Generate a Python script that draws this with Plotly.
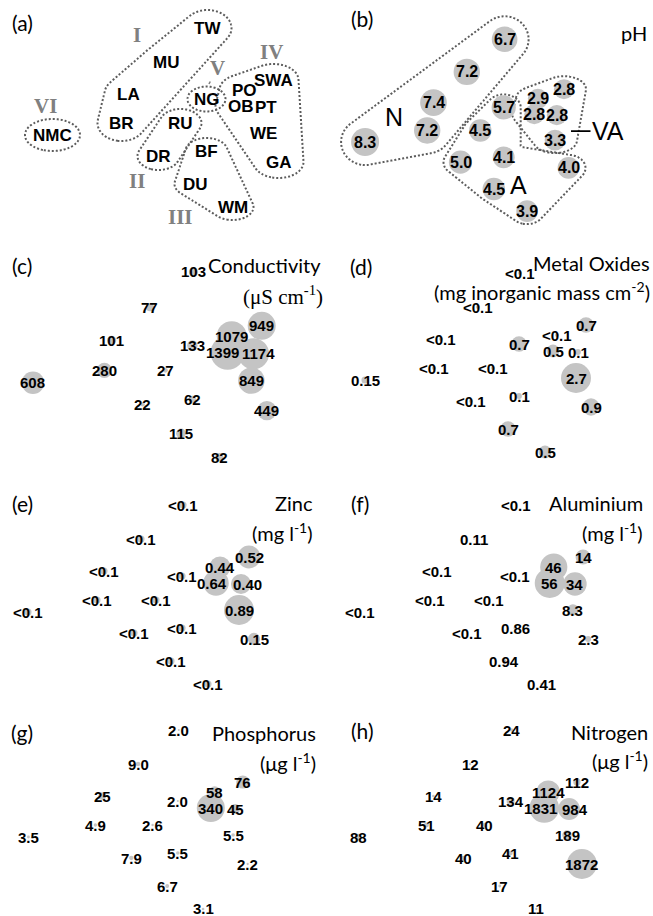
import numpy as np
import plotly.graph_objects as go

W, H = 653, 916

# ---------------- data ----------------
sites = ["NMC", "BR", "LA", "MU", "TW", "RU", "DR", "NG", "BF", "DU", "WM",
         "GA", "WE", "SWA", "PO", "OB", "PT"]
nmds1 = [-1.15, -0.46, -0.39, -0.02, 0.40, 0.13, -0.09, 0.39, 0.39, 0.28, 0.65,
         1.11, 0.96, 1.06, 0.77, 0.73, 0.98]
nmds2 = [-0.20, -0.08, 0.21, 0.53, 0.87, -0.08, -0.41, 0.16, -0.36, -0.69, -0.92,
         -0.47, -0.18, 0.35, 0.25, 0.09, 0.08]

ph = ["8.3", "7.2", "7.4", "7.2", "6.7", "4.5", "5.0", "5.7", "4.1", "4.5", "3.9",
      "4.0", "3.3", "2.8", "2.9", "2.8", "2.8"]
conductivity = ["608", "280", "101", "77", "103", "27", "22", "133", "62", "115", "82",
                "449", "849", "949", "1079", "1399", "1174"]
metal_oxides = ["0.15", "<0.1", "<0.1", "<0.1", "<0.1", "<0.1", "<0.1", "0.7", "0.1", "0.7", "0.5",
                "0.9", "2.7", "0.7", "<0.1", "0.5", "0.1"]
zinc = ["<0.1", "<0.1", "<0.1", "<0.1", "<0.1", "<0.1", "<0.1", "<0.1", "<0.1", "<0.1", "<0.1",
        "0.15", "0.89", "0.52", "0.44", "0.64", "0.40"]
aluminium = ["<0.1", "<0.1", "<0.1", "0.11", "<0.1", "<0.1", "<0.1", "<0.1", "0.86", "0.94", "0.41",
             "2.3", "8.3", "14", "46", "56", "34"]
phosphorus = ["3.5", "4.9", "25", "9.0", "2.0", "2.6", "7.9", "2.0", "5.5", "6.7", "3.1",
              "2.2", "5.5", "76", "58", "340", "45"]
nitrogen = ["88", "51", "14", "12", "24", "40", "40", "134", "41", "17", "11",
            "1872", "189", "112", "1124", "1831", "984"]

clusters_a = {"I": [["TW", "MU", "LA", "BR"]], "II": [["RU", "DR"]], "III": [["BF", "DU", "WM"]],
              "IV": [["SWA", "PO", "OB", "PT", "WE", "GA"]], "V": [["NG"]], "VI": [["NMC"]]}
clusters_b = {"N": [["NMC", "BR", "LA", "MU", "TW"]],
              "A": [["NG", "RU", "DR", "DU", "BF"], ["BF", "DU", "WM", "GA"]],
              "VA": [["SWA", "PO", "OB", "PT", "WE"]]}

# ---------------- layout geometry (pixels) ----------------
# name: (x0, x1, y0, y1, x_origin, x_scale, y_origin, y_scale)
panels = {
    "a": (0, 326, 0, 230, 167.5, 100, 115, 100),
    "b": (326, 653, 0, 230, 468.6, 90, 122.8, 96),
    "c": (0, 326, 230, 462, 152, 103.5, 362, 103.5),
    "d": (326, 653, 230, 462, 480, 100, 360, 100),
    "e": (0, 326, 462, 690, 143, 100, 592, 100),
    "f": (326, 653, 462, 690, 476, 101, 592, 100),
    "g": (0, 326, 690, 916, 140, 97, 817, 100),
    "h": (326, 653, 690, 916, 472, 99, 817, 100),
}
order = ["a", "b", "c", "d", "e", "f", "g", "h"]

LABEL_FONT = "Liberation Sans"
TITLE_FONT = "Lato"
SERIF = "Liberation Serif"
BUBBLE = "#c4c4c4"
OUTLINE = "#5c5c5c"

fig = go.Figure()
annotations = []
idx = {s: i for i, s in enumerate(sites)}
X = np.array(nmds1)
Y = np.array(nmds2)


def axis_ids(p):
    n = order.index(p) + 1
    s = "" if n == 1 else str(n)
    return "x" + s, "y" + s, "xaxis" + s, "yaxis" + s


def ranges(p):
    x0, x1, y0, y1, a, sx, c, sy = panels[p]
    return [(x0 - a) / sx, (x1 - a) / sx], [(c - y1) / sy, (c - y0) / sy]


def num(v):
    return 0.05 if v.startswith("<") else float(v)


# ---------- convex-hull outlines ----------
def hull(pts):
    pts = sorted(set(pts))
    if len(pts) <= 2:
        return pts

    def cross(o, a, b):
        return (a[0] - o[0]) * (b[1] - o[1]) - (a[1] - o[1]) * (b[0] - o[0])
    lower, upper = [], []
    for p in pts:
        while len(lower) >= 2 and cross(lower[-2], lower[-1], p) <= 0:
            lower.pop()
        lower.append(p)
    for p in reversed(pts):
        while len(upper) >= 2 and cross(upper[-2], upper[-1], p) <= 0:
            upper.pop()
        upper.append(p)
    return lower[:-1] + upper[:-1]


def seg_dist(px, py, a, b):
    dx, dy = b[0] - a[0], b[1] - a[1]
    L2 = dx * dx + dy * dy
    if L2 == 0:
        return np.hypot(px - a[0], py - a[1])
    t = np.clip(((px - a[0]) * dx + (py - a[1]) * dy) / L2, 0, 1)
    return np.hypot(px - a[0] - t * dx, py - a[1] - t * dy)


def poly_dist(px, py, pts):
    h = hull(pts)
    if len(h) == 1:
        return np.hypot(px - h[0][0], py - h[0][1])
    if len(h) == 2:
        return seg_dist(px, py, h[0], h[1])
    d = np.full(px.shape, np.inf)
    inside = np.ones(px.shape, bool)
    for i in range(len(h)):
        a, b = h[i], h[(i + 1) % len(h)]
        d = np.minimum(d, seg_dist(px, py, a, b))
        inside &= ((b[0] - a[0]) * (py - a[1]) - (b[1] - a[1]) * (px - a[0])) >= 0
    d[inside] = 0
    return d


def add_outlines(p, clusters, pads):
    xa, ya, _, _ = axis_ids(p)
    xr, yr = ranges(p)
    sx, sy = panels[p][5], panels[p][7]
    gx = np.linspace(xr[0], xr[1], 300)
    gy = np.linspace(yr[0], yr[1], 220)
    GX, GY = np.meshgrid(gx, gy)
    for name, polys in clusters.items():
        rx, ry = pads[name]
        U, V = GX * sx / rx, GY * sy / ry
        field = np.full(GX.shape, np.inf)
        for members in polys:
            pts = [(X[idx[m]] * sx / rx, Y[idx[m]] * sy / ry) for m in members]
            field = np.minimum(field, poly_dist(U, V, pts))
        fig.add_trace(go.Contour(
            x=gx, y=gy, z=field, xaxis=xa, yaxis=ya, autocontour=False,
            contours=dict(start=1, end=1, size=1, coloring="none", showlabels=False),
            line=dict(color=OUTLINE, width=2, dash="2px,2px", smoothing=1.0),
            showscale=False, hoverinfo="skip"))


def add_labels(p, labels, size, shifts=None, color="black"):
    xa, ya, _, _ = axis_ids(p)
    shifts = shifts or {}
    for i, s in enumerate(sites):
        dx, dy = shifts.get(s, (0, 0))
        annotations.append(dict(
            x=X[i], y=Y[i], xref=xa, yref=ya, text="<b>%s</b>" % labels[i],
            showarrow=False, xshift=dx, yshift=-dy,
            font=dict(family=LABEL_FONT, size=size, color=color)))


def add_bubbles(p, labels, rmax=None, linear=None):
    xa, ya, _, _ = axis_ids(p)
    vals = np.array([num(v) for v in labels])
    if linear is not None:
        marker = dict(size=2 * (linear[0] + linear[1] * vals), sizemode="diameter",
                      color=BUBBLE, line=dict(width=0), opacity=1)
    else:
        marker = dict(size=vals, sizemode="area", sizeref=vals.max() / (2 * rmax ** 2),
                      color=BUBBLE, line=dict(width=0), opacity=1)
    fig.add_trace(go.Scatter(x=X, y=Y, mode="markers", marker=marker,
                             xaxis=xa, yaxis=ya, hoverinfo="skip", showlegend=False))


def paper_text(px, py, text, size, family=TITLE_FONT, xanchor="center", color="black"):
    annotations.append(dict(x=px / W, y=1 - py / H, xref="paper", yref="paper", text=text,
                            showarrow=False, xanchor=xanchor, yanchor="middle",
                            font=dict(family=family, size=size, color=color)))


def site_text(p, site, dx, dy, text, size, family, color, **kw):
    xa, ya, _, _ = axis_ids(p)
    i = idx[site]
    d = dict(x=X[i], y=Y[i], xref=xa, yref=ya, text=text, showarrow=False,
             xshift=dx, yshift=-dy, font=dict(family=family, size=size, color=color))
    d.update(kw)
    annotations.append(d)


# ---------- panel (a) ----------
add_outlines("a", clusters_a, {"I": (24, 18), "II": (21, 14), "III": (21, 13),
                               "IV": (25, 16), "V": (19, 12.5), "VI": (27.5, 16)})
add_labels("a", sites, 17)
roman = {"I": ("MU", -28.5, -27), "II": ("DR", -21.5, 25), "III": ("DU", -15.5, 33),
         "IV": ("SWA", -2.5, -28), "VI": ("NMC", -7.5, -29)}
for r, (s, dx, dy) in roman.items():
    site_text("a", s, dx, dy, "<b>%s</b>" % r, 21, SERIF, "#808080")
site_text("a", "NG", 2.5, -15, "<b>V</b>", 21, SERIF, "#808080",
          showarrow=True, arrowhead=0, arrowwidth=1.6, arrowcolor="#808080",
          ax=8, ay=-16, standoff=0)

# ---------- panel (b) ----------
add_outlines("b", clusters_b, {"N": (24, 23), "A": (17, 13), "VA": (22, 13)})
add_bubbles("b", ph, linear=(8.0, 0.72))
add_labels("b", ph, 16)
site_text("b", "NMC", 28.5, -25.5, "N", 25, LABEL_FONT, "black")
site_text("b", "DU", 24.7, -4, "A", 25, LABEL_FONT, "black")
site_text("b", "WE", 16, -9, "VA", 25, LABEL_FONT, "black",
          showarrow=True, arrowhead=0, arrowwidth=1.8, arrowcolor="black",
          ax=37, ay=0, standoff=0)
paper_text(634, 33, "pH", 20)

# ---------- panels (c)-(h) ----------
specs = [
    ("c", conductivity, 17, {"OB": (-5, 0), "PT": (5, 0)}),
    ("d", metal_oxides, 15, None),
    ("e", zinc, 15, {"OB": (-4, 0), "PT": (6, 0)}),
    ("f", aluminium, 15, None),
    ("g", phosphorus, 14, {"WM": (0, -1)}),
    ("h", nitrogen, 15, {"OB": (-4, 0), "PT": (6, 0), "WM": (0, -1)}),
]
for p, labels, rmax, sh in specs:
    add_bubbles(p, labels, rmax=rmax)
    add_labels(p, labels, 15, sh)

# titles
paper_text(323, 265, "Conductivity", 20, xanchor="right")
paper_text(325, 295, "(\u03bcS cm<sup>-1</sup>)", 21, family=SERIF, xanchor="right")
paper_text(652, 263, "Metal Oxides", 20, xanchor="right")
paper_text(652, 291, "(mg inorganic mass cm<sup>-2</sup>)", 20, xanchor="right")
paper_text(315, 503, "Zinc", 20, xanchor="right")
paper_text(315, 532, "(mg l<sup>-1</sup>)", 20, xanchor="right")
paper_text(645, 503, "Aluminium", 20, xanchor="right")
paper_text(645, 532, "(mg l<sup>-1</sup>)", 20, xanchor="right")
paper_text(318, 733, "Phosphorus", 20, xanchor="right")
paper_text(318, 762, "(\u03bcg l<sup>-1</sup>)", 20, xanchor="right")
paper_text(650, 732, "Nitrogen", 20, xanchor="right")
paper_text(650, 760, "(\u03bcg l<sup>-1</sup>)", 20, xanchor="right")

# panel letters
letters = {"a": (22, 22), "b": (362, 19), "c": (22, 265), "d": (361, 267),
           "e": (22, 504), "f": (360, 504), "g": (22, 732), "h": (362, 730)}
for p, (px, py) in letters.items():
    paper_text(px, py, "(%s)" % p, 21)

# axes
lay = {}
for p in order:
    xa, ya, xk, yk = axis_ids(p)
    x0, x1, y0, y1 = panels[p][:4]
    xr, yr = ranges(p)
    lay[xk] = dict(domain=[x0 / W, x1 / W], range=xr, visible=False, fixedrange=True, anchor=ya)
    lay[yk] = dict(domain=[1 - y1 / H, 1 - y0 / H], range=yr, visible=False, fixedrange=True, anchor=xa)

fig.update_layout(width=W, height=H, margin=dict(l=0, r=0, t=0, b=0),
                  paper_bgcolor="white", plot_bgcolor="white", showlegend=False,
                  annotations=annotations, **lay)

fig.write_html("out.html", config={"displayModeBar": False},
               post_script="document.body.style.margin='0px';")
